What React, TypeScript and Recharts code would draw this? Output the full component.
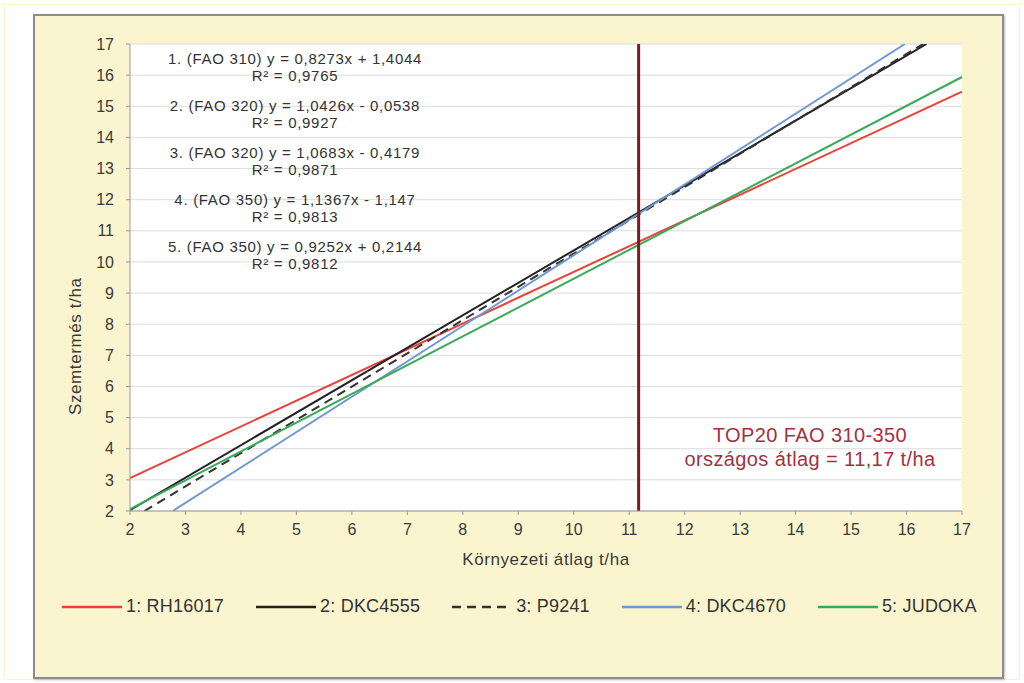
import { LineChart, Line, XAxis, YAxis, CartesianGrid, ReferenceLine } from 'recharts'

// tick values (t/ha)
const xTicks = [2, 3, 4, 5, 6, 7, 8, 9, 10, 11, 12, 13, 14, 15, 16, 17]
const yTicks = [2, 3, 4, 5, 6, 7, 8, 9, 10, 11, 12, 13, 14, 15, 16, 17]

// trend line endpoints
const rh16017 = [{ x: 2, y: 3.06 }, { x: 17, y: 15.47 }]
const dkc4555 = [{ x: 2, y: 2.03 }, { x: 16.36, y: 17 }]
const p9241 = [{ x: 2.26, y: 2 }, { x: 16.3, y: 17 }]
const dkc4670 = [{ x: 2.77, y: 2 }, { x: 15.97, y: 17 }]
const judoka = [{ x: 2, y: 2.06 }, { x: 17, y: 15.94 }]

const seriesNames = ['1: RH16017', '2: DKC4555', '3: P9241', '4: DKC4670', '5: JUDOKA']
const seriesColors = ['#e8423a', '#222222', '#333333', '#6f98d2', '#3aaa5a']
const seriesDash = ['', '', '9 6', '', '']

const equations = [
  ['1. (FAO 310) y = 0,8273x + 1,4044', 'R² = 0,9765'],
  ['2. (FAO 320) y = 1,0426x - 0,0538', 'R² = 0,9927'],
  ['3. (FAO 320) y = 1,0683x - 0,4179', 'R² = 0,9871'],
  ['4. (FAO 350) y = 1,1367x - 1,147', 'R² = 0,9813'],
  ['5. (FAO 350) y = 0,9252x + 0,2144', 'R² = 0,9812'],
]

const nationalAvg = 11.17
const avgNote = ['TOP20 FAO 310-350', 'országos átlag = 11,17 t/ha']

const FONT = '"Liberation Sans", Arial, sans-serif'
const tickStyle = { fill: '#3a3a3a', fontSize: 16, fontFamily: FONT }

function LegendSwatch({ color, dash }: { color: string; dash: string }) {
  return (
    <svg width={60} height={10} style={{ marginRight: 4 }}>
      <line x1={0} y1={5} x2={60} y2={5} stroke={color} strokeWidth={2.5} strokeDasharray={dash || undefined} />
    </svg>
  )
}

export default function App() {
  const allSeries = [rh16017, dkc4555, p9241, dkc4670, judoka]

  return (
    <div style={{ position: 'absolute', left: 0, top: 0, width: 1024, height: 683, background: '#fff', fontFamily: FONT }}>
      {/* faint outer frame */}
      <div style={{ position: 'absolute', left: 4, top: 4, width: 1014, height: 674, border: '1px solid #fbf3cf' }} />
      {/* chart box */}
      <div
        style={{
          position: 'absolute',
          left: 33,
          top: 14,
          width: 967,
          height: 661,
          background: '#faf4cf',
          border: '2px solid #8c8c8c',
          boxShadow: '1px 1px 2px rgba(0,0,0,0.25)',
        }}
      />

      <div style={{ position: 'absolute', left: 0, top: 0 }}>
        <LineChart width={1024} height={683} margin={{ top: 44, right: 62, left: 80, bottom: 142 }}>
          <CartesianGrid vertical={false} stroke="#dcdcdc" fill="#ffffff" />
          <XAxis
            type="number"
            dataKey="x"
            domain={[2, 17]}
            ticks={xTicks}
            allowDataOverflow
            height={30}
            stroke="#9a9a9a"
            tick={tickStyle}
            tickSize={4}
            tickMargin={9}
            interval={0}
            label={{ value: 'Környezeti átlag t/ha', position: 'bottom', offset: 12, fill: '#3a3a3a', fontSize: 17, letterSpacing: 0.6, fontFamily: FONT }}
          />
          <YAxis
            type="number"
            domain={[2, 17]}
            ticks={yTicks}
            allowDataOverflow
            width={50}
            stroke="#9a9a9a"
            tick={tickStyle}
            tickSize={4}
            tickMargin={12}
            interval={0}
            label={{ value: 'Szemtermés t/ha', angle: -90, position: 'left', offset: 5, fill: '#3a3a3a', fontSize: 17, letterSpacing: 0.6, fontFamily: FONT }}
          />
          {allSeries.map((d, i) => (
            <Line
              key={seriesNames[i]}
              data={d}
              dataKey="y"
              type="linear"
              stroke={seriesColors[i]}
              strokeWidth={2}
              strokeDasharray={seriesDash[i] || undefined}
              dot={false}
              activeDot={false}
              isAnimationActive={false}
            />
          ))}
          <ReferenceLine x={nationalAvg} stroke="#7d1b1b" strokeWidth={3} ifOverflow="hidden" />
        </LineChart>
      </div>

      {/* regression equations */}
      <div style={{ position: 'absolute', left: 135, top: 50, width: 320, textAlign: 'center', color: '#333', fontSize: 15, letterSpacing: 0.7 }}>
        {equations.map((eq) => (
          <div key={eq[0]} style={{ height: 47 }}>
            <div style={{ lineHeight: '17px' }}>{eq[0]}</div>
            <div style={{ lineHeight: '17px' }}>{eq[1]}</div>
          </div>
        ))}
      </div>

      {/* national average note */}
      <div style={{ position: 'absolute', left: 640, top: 423, width: 340, textAlign: 'center', color: '#a2323f', fontSize: 20, letterSpacing: 0.4 }}>
        {avgNote.map((t) => (
          <div key={t} style={{ lineHeight: '24px' }}>{t}</div>
        ))}
      </div>

      {/* legend */}
      <div style={{ position: 'absolute', left: 62, top: 596, display: 'flex', alignItems: 'center', color: '#333', fontSize: 18, letterSpacing: 0.2 }}>
        {seriesNames.map((name, i) => (
          <div key={name} style={{ display: 'flex', alignItems: 'center', marginRight: 32 }}>
            <LegendSwatch color={seriesColors[i]} dash={seriesDash[i]} />
            <span>{name}</span>
          </div>
        ))}
      </div>
    </div>
  )
}
